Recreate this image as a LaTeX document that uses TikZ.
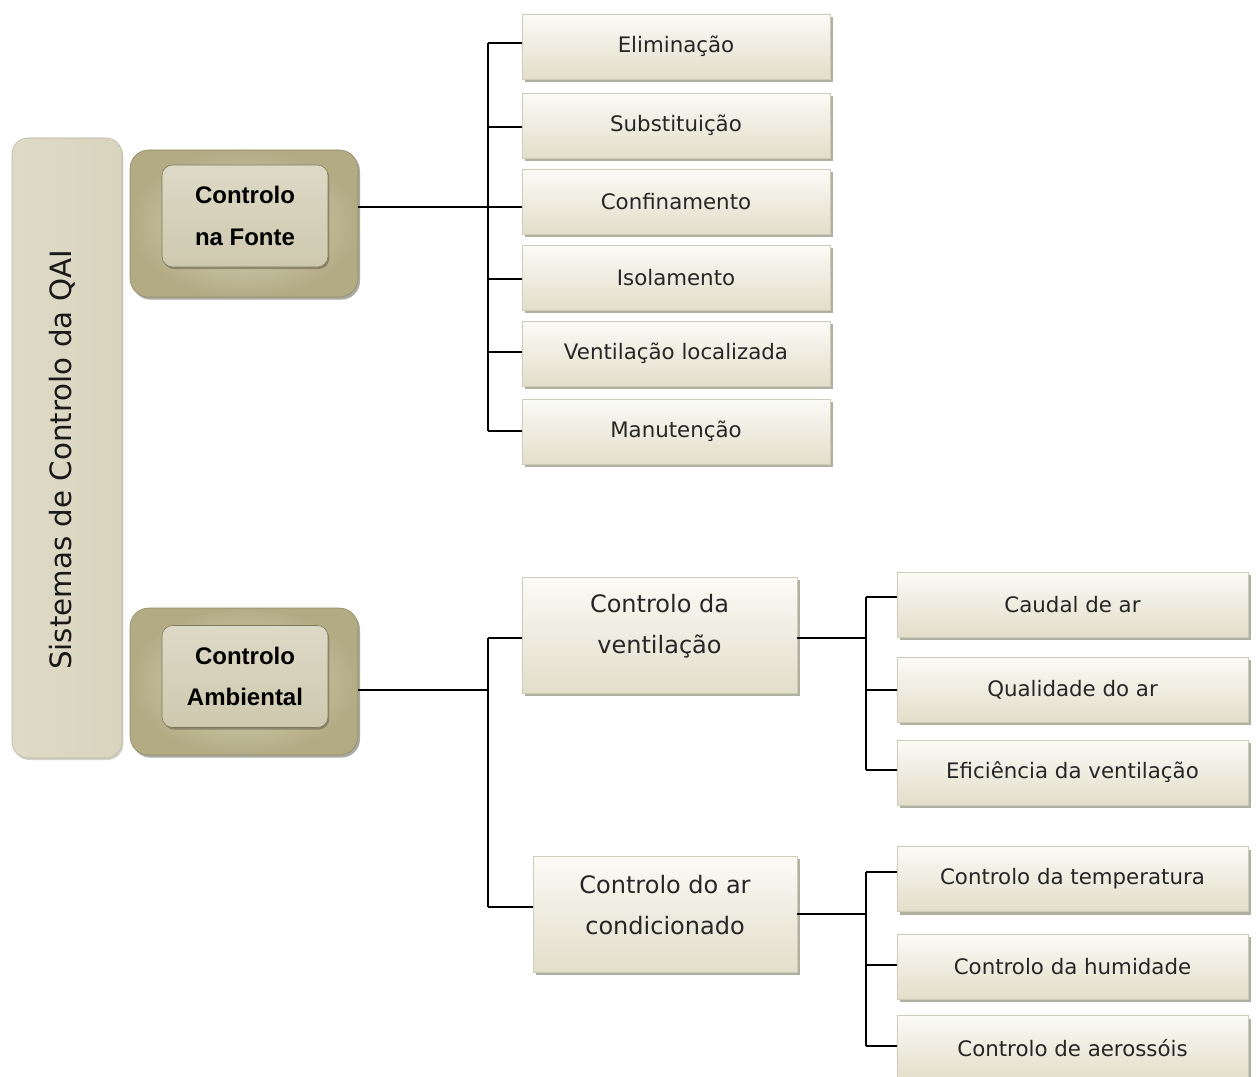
\documentclass[tikz,border=0pt]{standalone}
\usepackage{fontspec}
\setmainfont{DejaVu Sans}
\newfontfamily\boldfam{Liberation Sans}
\usetikzlibrary{shadows}
\definecolor{boxtop}{HTML}{FBFBF6}
\definecolor{boxbot}{HTML}{E2DECA}
\definecolor{olive}{HTML}{B3AB84}
\definecolor{olivelt}{HTML}{DFDAC2}
\definecolor{innerc}{HTML}{CEC9AE}
\definecolor{bigc}{HTML}{D8D4BD}
\definecolor{shadowc}{HTML}{A9A796}
\tikzset{
  leaf/.style={rectangle, draw=boxbot!80!gray, line width=0.3pt, top color=boxtop, bottom color=boxbot,
    drop shadow={shadow xshift=2pt, shadow yshift=-2.5pt, fill=shadowc, opacity=0.9},
    text=black!85, font=\fontsize{16}{19}\selectfont, align=center, inner sep=0pt},
  topleaf/.style={leaf, minimum width=231pt, minimum height=48.75pt},
  rightleaf/.style={leaf, minimum width=263.25pt, minimum height=48.75pt},
  midleaf/.style={leaf, minimum height=87pt},
  midtext/.style={text=black!85, font=\fontsize{18}{31}\selectfont, align=center, inner sep=0pt},
  outerbox/.style={rectangle, rounded corners=14pt, draw=olive!80!black, line width=0.4pt,
    inner color=olivelt, outer color=olive, minimum width=171pt, minimum height=110.25pt,
    drop shadow={shadow xshift=1.5pt, shadow yshift=-2pt, fill=shadowc!80!black, opacity=0.7}},
  innerbox/.style={rectangle, rounded corners=8pt, draw=olive!70!black, line width=0.4pt,
    top color=innerc!70!white, bottom color=innerc, minimum width=124.5pt, minimum height=76.5pt,
    drop shadow={shadow xshift=1pt, shadow yshift=-1.5pt, fill=olive!60!black, opacity=0.6},
    font=\boldfam\bfseries\fontsize{18}{31}\selectfont, align=center, inner sep=0pt},
  link/.style={draw=black, line width=0.9pt}
}
\begin{document}
\begin{tikzpicture}[x=0.75pt,y=-0.75pt]
\useasboundingbox[fill=white] (0,0) rectangle (1256,1077);
% big vertical box
\node[rectangle, rounded corners=12pt, draw=bigc!85!black, line width=0.4pt,
  left color=bigc!85!white, right color=bigc, minimum width=82.5pt, minimum height=465pt,
  drop shadow={shadow xshift=1pt, shadow yshift=-1.5pt, fill=shadowc, opacity=0.5}] (big) at (67,448) {};
\node[rotate=90, font=\fontsize{22}{24}\selectfont, text=black!90] (bigt) at (62,460) {Sistemas de Controlo da QAI};
% level 1
\node[outerbox] (f1o) at (244,223.5) {};
\node[innerbox] (f1) at (245,216) {Controlo\\na Fonte};
\node[outerbox] (f2o) at (244,681.5) {};
\node[innerbox] (f2) at (245,676.5) {Controlo\\Ambiental};
% top leaves
\node[topleaf] (a1) at (676,46.5) {Eliminação};
\node[topleaf] (a2) at (676,125.5) {Substituição};
\node[topleaf] (a3) at (676,201.5) {Confinamento};
\node[topleaf] (a4) at (676,277.5) {Isolamento};
\node[topleaf] (a5) at (676,353.5) {Ventilação localizada};
\node[topleaf] (a6) at (676,431.5) {Manutenção};
% mid
\node[midleaf, minimum width=206.25pt] (m1) at (659.5,635) {};
\node[midtext] (m1t) at (659.5,626) {Controlo da\\ventilação};
\node[midleaf, minimum width=198pt] (m2) at (665,914) {};
\node[midtext] (m2t) at (665,905) {Controlo do ar\\condicionado};
% right leaves
\node[rightleaf] (r1) at (1072.5,604.5) {Caudal de ar};
\node[rightleaf] (r2) at (1072.5,689.5) {Qualidade do ar};
\node[rightleaf] (r3) at (1072.5,772.5) {Eficiência da ventilação};
\node[rightleaf] (r4) at (1072.5,879) {Controlo da temperatura};
\node[rightleaf] (r5) at (1072.5,966.5) {Controlo da humidade};
\node[rightleaf] (r6) at (1072.5,1048) {Controlo de aerossóis};
% connectors
\coordinate (j1) at (488,207);
\draw[link] (f1o.east |- j1) -- (a3.west |- j1);
\draw[link] (488,43) -- (488,431);
\foreach \n/\y in {a1/43,a2/127,a4/279,a5/352,a6/431}{
  \draw[link] (488,\y) -- (\n.west |- {(0,\y)});
}
\draw[link] (f2o.east |- {(0,690)}) -- (488,690);
\draw[link] (488,638) -- (488,907);
\draw[link] (488,638) -- (m1.west |- {(0,638)});
\draw[link] (488,907) -- (m2.west |- {(0,907)});
\draw[link] (m1.east |- {(0,638)}) -- (866,638);
\draw[link] (866,597) -- (866,770);
\foreach \n/\y in {r1/597,r2/690,r3/770}{
  \draw[link] (866,\y) -- (\n.west |- {(0,\y)});
}
\draw[link] (m2.east |- {(0,914)}) -- (866,914);
\draw[link] (866,872) -- (866,1046);
\foreach \n/\y in {r4/872,r5/965,r6/1046}{
  \draw[link] (866,\y) -- (\n.west |- {(0,\y)});
}
\end{tikzpicture}
\end{document}
